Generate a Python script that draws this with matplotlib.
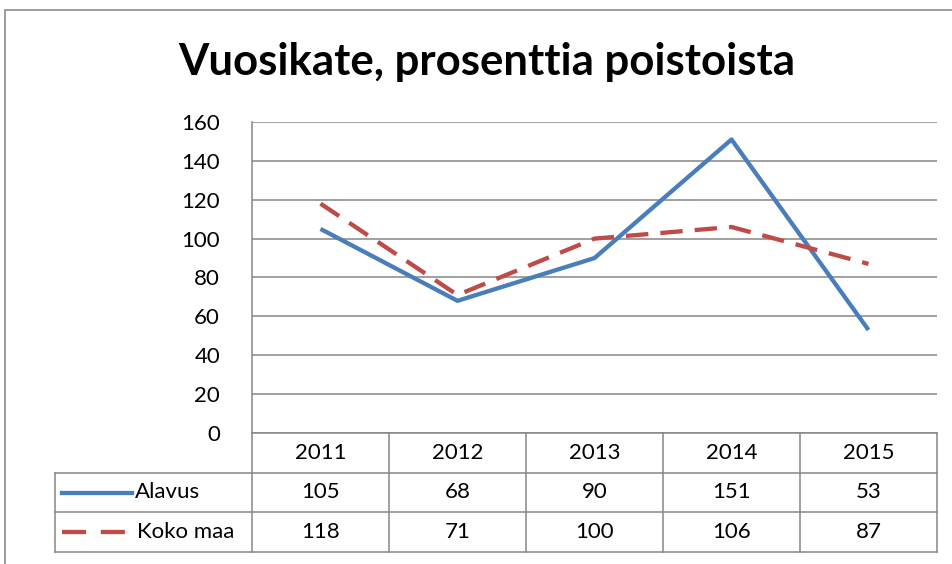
import numpy as np
import matplotlib.pyplot as plt
from matplotlib.lines import Line2D
from matplotlib.patches import Rectangle

# Chart data
years = ['2011', '2012', '2013', '2014', '2015']
alavus = [105, 68, 90, 151, 53]
koko_maa = [118, 71, 100, 106, 87]
series_names = ['Alavus', 'Koko maa']
y_ticks = [0, 20, 40, 60, 80, 100, 120, 140, 160]

BLUE = '#4A7EBB'
RED = '#BE4B48'
GRID = '#868686'

plt.rcParams['font.family'] = ['Lato', 'DejaVu Sans']

W, H = 952, 564
fig = plt.figure(figsize=(W / 100, H / 100), dpi=100)

# outer chart border (runs off the right and bottom edge)
fig.patches.append(Rectangle((5 / W, -0.1), 1.2, (H - 10) / H + 0.1,
                             transform=fig.transFigure, fill=False,
                             edgecolor='#8C8C8C', linewidth=1.2))

fig.text(487 / W, 1 - 62 / H, 'Vuosikate, prosenttia poistoista',
         ha='center', va='center', fontsize=31.5, fontweight='bold')

############ Line plot ############
x = np.arange(len(years))
ax = fig.add_axes([252 / W, (H - 433) / H, 685 / W, (433 - 122) / H])
ax.plot(x, alavus, color=BLUE, linewidth=3.1, solid_capstyle='butt')
ax.plot(x, koko_maa, color=RED, linewidth=3.1, dashes=(5.2, 2.8))
ax.set_xlim(-0.5, len(years) - 0.5)
ax.set_ylim(0, 160)
ax.set_yticks(y_ticks)
ax.set_xticks([])
ax.tick_params(axis='y', length=0, labelsize=16, pad=23)
ax.grid(axis='y', color=GRID, linewidth=1.1)
ax.set_axisbelow(True)
for side in ['top', 'right', 'bottom']:
    ax.spines[side].set_visible(False)
ax.spines['left'].set_color(GRID)
ax.spines['left'].set_linewidth(1.1)

############ Data table ############
n = len(years)
left_col = -0.5 - (252 - 55) / 137
tax = fig.add_axes([55 / W, (H - 552) / H, (937 - 55) / W, (552 - 433) / H])
tax.set_xlim(left_col, n - 0.5)
tax.set_ylim(3, 0)
tax.axis('off')

lkw = dict(color=GRID, linewidth=1.1, clip_on=False)
# horizontal lines
tax.add_line(Line2D([-0.5, n - 0.5], [0, 0], **lkw))
for r in [1, 2, 3]:
    tax.add_line(Line2D([left_col, n - 0.5], [r, r], **lkw))
# vertical lines
for c in range(n + 1):
    tax.add_line(Line2D([c - 0.5, c - 0.5], [0, 3], **lkw))
tax.add_line(Line2D([left_col, left_col], [1, 3], **lkw))

for i, yr in enumerate(years):
    tax.text(i, 0.5, yr, ha='center', va='center', fontsize=16)
for i, (a, k) in enumerate(zip(alavus, koko_maa)):
    tax.text(i, 1.5, str(a), ha='center', va='center', fontsize=16)
    tax.text(i, 2.5, str(k), ha='center', va='center', fontsize=16)

# legend keys inside the row headers
tax.add_line(Line2D([left_col + 0.05, left_col + 0.56], [1.5, 1.5],
                    color=BLUE, linewidth=3.1))
tax.text(left_col + 0.58, 1.5, series_names[0], ha='left', va='center', fontsize=16)
tax.add_line(Line2D([left_col + 0.05, left_col + 0.52], [2.5, 2.5],
                    color=RED, linewidth=3.1, dashes=(5.6, 3.4)))
tax.text(left_col + 0.6, 2.5, series_names[1], ha='left', va='center', fontsize=16)

plt.savefig('out.png', dpi=100)
